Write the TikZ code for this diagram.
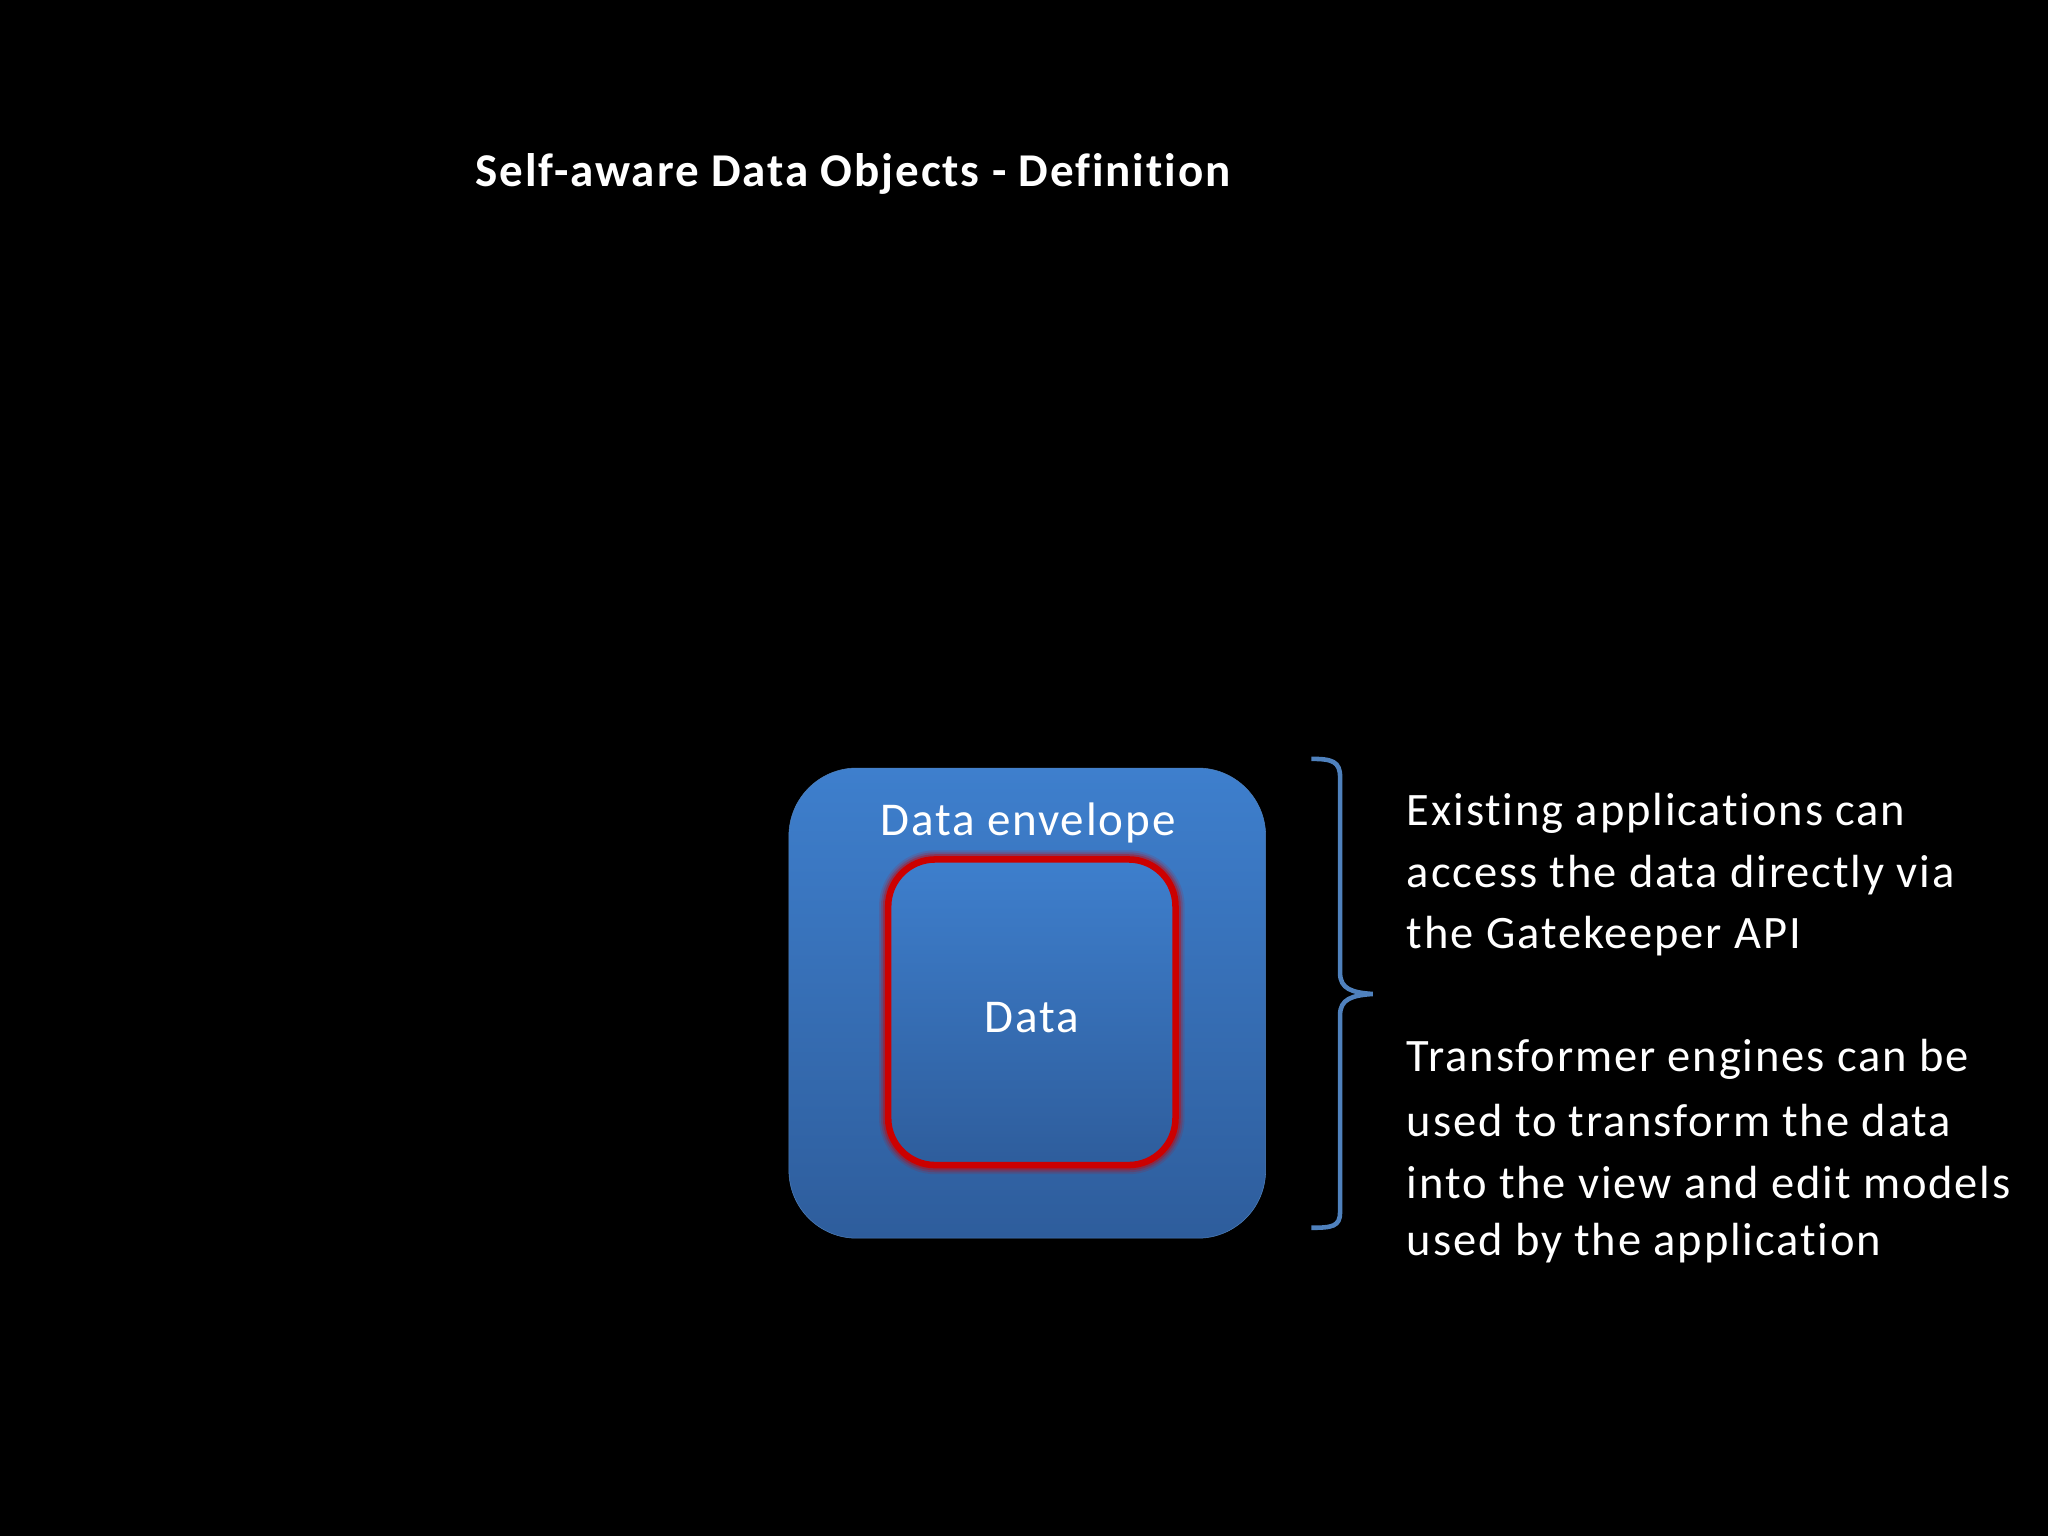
\documentclass[tikz,border=0pt]{standalone}
\usepackage{fontspec}
\setmainfont{Carlito}[Ligatures=NoCommon,LetterSpace=4]
\usetikzlibrary{shadings}
\begin{document}
\begin{tikzpicture}[x=1pt,y=-1pt,
  body/.style={text=white,font=\fontsize{35.6}{47}\selectfont,anchor=west,inner sep=0pt}]
\fill[black] (0,0) rectangle (1568,1176);
\useasboundingbox (0,0) rectangle (1568,1176);
\definecolor{btop}{HTML}{3E7FCD}
\definecolor{bbot}{HTML}{2E5D9C}
\definecolor{bline}{HTML}{4F81BD}
\node[text=white,font=\bfseries\fontsize{36}{40}\selectfont,anchor=west,inner sep=0pt] (title) at (364,133) {Self-aware Data Objects - Definition};
\shade[top color=btop,bottom color=bbot,draw=bline,rounded corners=52] (604,588) rectangle (969,948);
\node (outer) at (786,768) {};
\foreach \w/\o in {14/0.12,11/0.2,8/0.35} \draw[red!80!black,line width=\w,opacity=\o,rounded corners=36] (680,658) rectangle (900,892);
\shade[top color=btop,bottom color=bbot,draw=red!80!black,line width=5,rounded corners=36] (680,658) rectangle (900,892);
\node[text=white,font=\fontsize{36}{40}\selectfont] (env) at (787,630) {Data envelope};
\node[text=white,font=\fontsize{36}{40}\selectfont] (data) at (790,779) {Data};
\draw[bline,line width=3.5] (1004,581) .. controls (1020,581) and (1026,583) .. (1026,595) -- (1026,745) .. controls (1026,757) and (1035,760) .. (1051,761) .. controls (1035,762) and (1026,765) .. (1026,777) -- (1026,928) .. controls (1026,939) and (1020,940) .. (1004,940);
\node[body] (l1) at (1077,623) {Existing applications can};
\node[body] (l2) at (1077,670) {access the data directly via};
\node[body] (l3) at (1077,717) {the Gatekeeper API};
\node[body] (l4) at (1077,811) {Transformer engines can be};
\node[body] (l5) at (1077,858) {used to transform the data};
\node[body] (l6) at (1077,905) {into the view and edit models};
\node[body] (l7) at (1077,952) {used by the application};
\end{tikzpicture}
\end{document}
